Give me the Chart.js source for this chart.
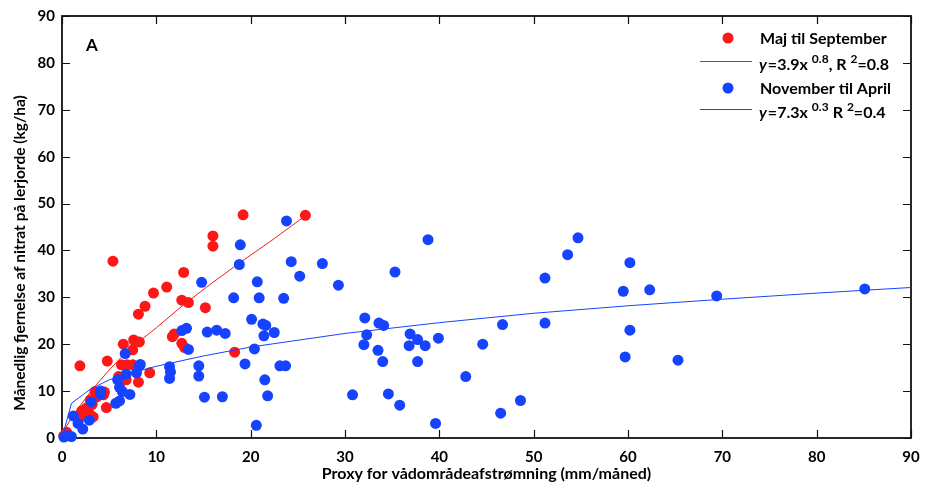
<!DOCTYPE html>
<html>
<head>
<meta charset="utf-8">
<script src="https://cdn.jsdelivr.net/npm/chart.js@4"></script>
<style>
  html, body { margin: 0; padding: 0; background: #fff; }
  #wrap { width: 934px; height: 488px; }
</style>
</head>
<body>
<div id="wrap"><canvas id="myChart" width="934" height="488"></canvas></div>
<script>
// Maj til September (red)
const redX = [0.2, 0.5, 1.9, 1.8, 2.1, 2.4, 2.6, 2.9, 3.0, 3.2, 3.3, 3.5, 3.7, 4.1, 4.4, 4.5, 4.7, 4.8, 5.4,
    6.0, 6.3, 6.5, 6.9, 6.8, 7.5, 7.5, 7.6, 8.2, 8.1, 8.1, 8.8, 9.3, 9.7, 11.1, 11.7, 11.9, 12.7, 13.0,
    12.7, 13.4, 12.9, 15.2, 16.0, 16.0, 18.3, 19.2, 25.8];
const redY = [0.5, 1.2, 15.4, 4.8, 5.8, 4.6, 6.4, 5.2, 8.1, 7.2, 4.5, 9.9, 8.8, 9.3, 9.2, 9.8, 6.5, 16.4, 37.7,
    13.1, 15.6, 20.0, 15.6, 12.4, 15.6, 18.8, 20.9, 20.5, 11.9, 26.4, 28.1, 13.9, 30.9, 32.2, 21.6, 22.2, 20.2, 19.3,
    29.4, 28.9, 35.3, 27.8, 43.1, 40.9, 18.3, 47.6, 47.5];

// November til April (blue)
const blueX = [0.2, 0.6, 1.0, 1.2, 1.7, 2.2, 2.9, 3.1, 4.1, 4.1, 5.7, 6.1, 5.9, 6.1, 6.4, 7.2, 6.8, 6.7, 7.9, 8.2,
    8.3, 11.4, 11.5, 11.4, 12.7, 13.2, 13.4, 14.5, 14.5, 14.8, 15.1, 15.4, 16.4, 17.3, 17.0, 18.2, 18.9, 18.8,
    19.4, 20.1, 20.4, 20.6, 20.7, 20.9, 21.3, 21.6, 21.4, 21.5, 21.8, 22.5, 23.1, 23.7, 23.5, 23.8, 24.3, 25.2,
    27.6, 29.3, 30.8, 32.0, 32.1, 32.3, 33.5, 33.6, 34.1, 34.0, 34.6, 35.3, 35.8, 36.8, 36.9, 37.7, 37.7, 38.5,
    38.8, 39.6, 39.9, 42.8, 44.6, 46.5, 46.7, 48.6, 51.2, 51.2, 53.6, 54.7, 59.5, 59.7, 60.2, 60.2, 62.3, 65.3,
    69.4, 85.1];
const blueY = [0.2, 0.5, 0.3, 4.7, 3.1, 1.9, 3.8, 7.7, 10.0, 9.3, 7.4, 7.9, 12.4, 10.8, 9.9, 9.3, 13.6, 18.0, 13.9, 15.4,
    15.7, 15.2, 14.1, 12.7, 22.9, 23.4, 18.9, 15.4, 13.2, 33.2, 8.7, 22.6, 23.0, 22.3, 8.8, 29.9, 41.2, 37.0,
    15.8, 25.3, 19.0, 2.7, 33.3, 29.9, 24.3, 24.0, 21.8, 12.4, 9.0, 22.5, 15.4, 15.4, 29.8, 46.3, 37.6, 34.5,
    37.2, 32.6, 9.2, 19.9, 25.6, 22.0, 18.7, 24.5, 24.0, 16.3, 9.4, 35.4, 7.0, 19.7, 22.2, 21.0, 16.3, 19.7,
    42.3, 3.1, 21.3, 13.1, 20.0, 5.3, 24.2, 8.0, 34.1, 24.5, 39.1, 42.7, 31.3, 17.3, 37.4, 23.0, 31.6, 16.6,
    30.3, 31.8];

// fitted curves
const redFitX = [0, 0.5, 1, 2, 3, 4, 5, 7, 10, 13, 16, 19, 22, 25.8];
const redFitY = [0, 2.6, 4.3, 7.1, 9.8, 12.2, 14.5, 18.7, 23.5, 28.6, 33.2, 37.6, 41.8, 47.4];
const blueFitX = [0, 1, 3, 5, 7, 10, 15, 20, 30, 40, 50, 60, 70, 80, 90];
const blueFitY = [0, 7.4, 10.4, 12.4, 13.7, 15.3, 17.5, 19.4, 22.3, 24.6, 26.6, 28.2, 29.6, 30.9, 32.1];

const xTicks = [0, 10, 20, 30, 40, 50, 60, 70, 80, 90];
const yTicks = [0, 10, 20, 30, 40, 50, 60, 70, 80, 90];

const RED = '#ff1616';
const BLUE = '#1643ff';
const FONT = "Lato, 'Open Sans', sans-serif";

function toPoints(xs, ys) {
    return xs.map((x, i) => ({ x: x, y: ys[i] }));
}

// box with inward ticks on all four sides
const frame = {
    id: 'frame',
    beforeDatasetsDraw(chart) {
        const { ctx, chartArea: a, scales: { x, y } } = chart;
        ctx.save();
        ctx.strokeStyle = '#111';
        ctx.lineWidth = 1.8;
        ctx.strokeRect(a.left, a.top, a.right - a.left, a.bottom - a.top);
        ctx.lineWidth = 1.2;
        ctx.beginPath();
        xTicks.forEach(v => {
            const px = Math.round(x.getPixelForValue(v)) + 0.5;
            ctx.moveTo(px, a.bottom); ctx.lineTo(px, a.bottom - 8);
            ctx.moveTo(px, a.top); ctx.lineTo(px, a.top + 8);
        });
        yTicks.forEach(v => {
            const py = Math.round(y.getPixelForValue(v)) + 0.5;
            ctx.moveTo(a.left, py); ctx.lineTo(a.left + 8, py);
            ctx.moveTo(a.right, py); ctx.lineTo(a.right - 8, py);
        });
        ctx.stroke();
        ctx.restore();
    }
};

// legend with superscripts, panel letter, y title
function drawEq(ctx, x, base, parts) {
    parts.forEach(p => {
        ctx.font = p.font;
        ctx.fillText(p.t, x, base + (p.dy || 0));
        x += ctx.measureText(p.t).width + (p.gap || 0);
    });
}

const legendPlugin = {
    id: 'legendPlugin',
    afterDraw(chart) {
        const ctx = chart.ctx;
        ctx.save();
        ctx.fillStyle = '#000';
        ctx.textBaseline = 'alphabetic';
        ctx.font = "bold 17px " + FONT;
        ctx.fillText('A', 86, 51);

        // y axis title, centred a bit below the middle like the original
        ctx.save();
        ctx.translate(20, 253);
        ctx.rotate(-Math.PI / 2);
        ctx.textAlign = 'center';
        ctx.textBaseline = 'middle';
        ctx.font = "bold 15.5px " + FONT;
        ctx.fillText('Månedlig fjernelse af nitrat på lerjorde (kg/ha)', 0, 0);
        ctx.restore();

        ctx.fillStyle = RED;
        ctx.beginPath(); ctx.arc(728, 38, 5.5, 0, Math.PI * 2); ctx.fill();
        ctx.fillStyle = BLUE;
        ctx.beginPath(); ctx.arc(728, 88, 5.5, 0, Math.PI * 2); ctx.fill();

        ctx.lineWidth = 1;
        ctx.strokeStyle = RED;
        ctx.beginPath(); ctx.moveTo(700, 61.5); ctx.lineTo(752, 61.5); ctx.stroke();
        ctx.strokeStyle = BLUE;
        ctx.beginPath(); ctx.moveTo(700, 109.5); ctx.lineTo(752, 109.5); ctx.stroke();

        ctx.fillStyle = '#000';
        ctx.font = "bold 16px " + FONT;
        ctx.fillText('Maj til September', 760, 44);
        ctx.fillText('November til April', 760, 94);

        const big = "bold 16px " + FONT;
        const it = "italic bold 16px " + FONT;
        const sup = "bold 12px " + FONT;
        drawEq(ctx, 759, 70, [
            { t: 'y', font: it, gap: 1 },
            { t: '=3.9x', font: big, gap: 4 },
            { t: '0.8', font: sup, dy: -7 },
            { t: ', R', font: big, gap: 4 },
            { t: '2', font: sup, dy: -7 },
            { t: '=0.8', font: big }
        ]);
        drawEq(ctx, 759, 118, [
            { t: 'y', font: it, gap: 1 },
            { t: '=7.3x', font: big, gap: 4 },
            { t: '0.3', font: sup, dy: -7, gap: 4 },
            { t: 'R', font: big, gap: 4 },
            { t: '2', font: sup, dy: -7 },
            { t: '=0.4', font: big }
        ]);
        ctx.restore();
    }
};

const ctx = document.getElementById('myChart');
const myChart = new Chart(ctx, {
    type: 'scatter',
    data: {
        datasets: [
            {
                label: 'November til April fit',
                type: 'line',
                data: toPoints(blueFitX, blueFitY),
                borderColor: BLUE,
                borderWidth: 1,
                pointRadius: 0,
                tension: 0,
                fill: false,
                clip: false,
                order: 1
            },
            {
                label: 'November til April',
                data: toPoints(blueX, blueY),
                backgroundColor: BLUE,
                borderWidth: 0,
                pointRadius: 5.5,
                clip: false,
                order: 2
            },
            {
                label: 'Maj til September fit',
                type: 'line',
                data: toPoints(redFitX, redFitY),
                borderColor: RED,
                borderWidth: 1,
                pointRadius: 0,
                tension: 0,
                fill: false,
                clip: false,
                order: 3
            },
            {
                label: 'Maj til September',
                data: toPoints(redX, redY),
                backgroundColor: RED,
                borderWidth: 0,
                pointRadius: 5.5,
                clip: false,
                order: 4
            }
        ]
    },
    options: {
        responsive: false,
        animation: false,
        devicePixelRatio: 1,
        layout: { padding: { top: 16, right: 23, left: 0, bottom: 0 } },
        plugins: {
            legend: { display: false },
            tooltip: { enabled: false }
        },
        scales: {
            x: {
                type: 'linear',
                min: 0,
                max: 90,
                afterBuildTicks: s => { s.ticks = xTicks.map(v => ({ value: v })); },
                afterFit: s => { s.height = 50; },
                grid: { display: false, drawTicks: false },
                border: { display: false },
                ticks: { color: '#000', padding: 10, font: { family: FONT, size: 15, weight: 'bold' } },
                title: {
                    display: true,
                    text: 'Proxy for vådområdeafstrømning (mm/måned)',
                    color: '#000',
                    padding: { top: 0, bottom: 5 },
                    font: { family: FONT, size: 16, weight: 'bold' }
                }
            },
            y: {
                type: 'linear',
                min: 0,
                max: 90,
                afterBuildTicks: s => { s.ticks = yTicks.map(v => ({ value: v })); },
                afterFit: s => { s.width = 62; },
                grid: { display: false, drawTicks: false },
                border: { display: false },
                ticks: { color: '#000', padding: 7, font: { family: FONT, size: 15, weight: 'bold' } },
                title: { display: false }
            }
        }
    },
    plugins: [frame, legendPlugin]
});
</script>
</body>
</html>
